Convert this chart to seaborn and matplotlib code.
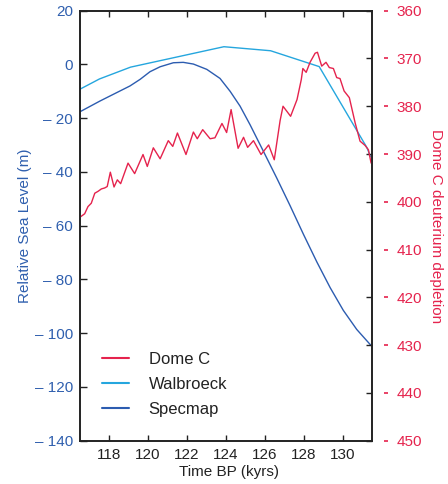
import matplotlib
matplotlib.use("Agg")
import matplotlib.pyplot as plt
import seaborn as sns
import pandas as pd
from matplotlib.ticker import FuncFormatter
from matplotlib.lines import Line2D

# ---------------- data ----------------
domec_age = [116.54, 116.74, 116.91, 117.08, 117.26, 117.43, 117.60, 117.77, 117.90, 118.06,
             118.25, 118.42, 118.59, 118.97, 119.31, 119.74, 119.96, 120.27, 120.62, 121.04,
             121.27, 121.51, 121.95, 122.33, 122.53, 122.81, 123.19, 123.44, 123.80, 124.04,
             124.27, 124.63, 124.91, 125.12, 125.42, 125.81, 126.20, 126.49, 126.79, 126.94,
             127.33, 127.66, 127.88, 127.96, 128.13, 128.33, 128.59, 128.71, 128.93, 129.15,
             129.32, 129.53, 129.70, 129.87, 130.08, 130.35, 130.65, 130.90, 131.16, 131.33,
             131.47]
domec_val = [403.1, 402.5, 401.0, 400.3, 398.2, 397.8, 397.3, 397.1, 396.8, 393.8,
             396.9, 395.4, 396.2, 391.9, 394.1, 390.1, 392.6, 388.7, 391.0, 387.2,
             388.4, 385.6, 390.1, 385.4, 386.8, 384.9, 386.8, 386.6, 383.6, 385.5,
             380.7, 388.8, 386.5, 388.6, 387.2, 390.1, 388.1, 391.2, 383.0, 380.0,
             382.1, 378.6, 374.4, 372.1, 372.9, 370.8, 368.9, 368.7, 371.6, 370.8,
             371.9, 372.1, 374.0, 374.2, 376.8, 378.2, 383.5, 387.3, 388.2, 389.1,
             391.9]

walb_age = [116.5, 117.5, 119.1, 123.9, 126.3, 128.8, 131.25, 131.45]
walb_val = [-9.2, -5.4, -1.0, 6.6, 5.1, -0.8, -30.9, -34.4]

spec_age = [116.5, 117.53, 119.07, 119.59, 120.10, 120.62, 121.30, 121.81, 122.33, 123.02,
            123.70, 124.22, 124.73, 125.25, 125.93, 126.62, 127.30, 127.99, 128.68, 129.36,
            130.04, 130.73, 131.47]
spec_val = [-17.6, -13.6, -8.0, -5.55, -2.7, -0.86, 0.63, 0.78, 0.15, -1.83,
            -5.2, -10.0, -15.5, -22.5, -32.3, -42.3, -52.5, -63.2, -73.5, -83.0,
            -91.5, -98.6, -104.6]

x_ticks = [118, 120, 122, 124, 126, 128, 130]
left_ticks = [20, 0, -20, -40, -60, -80, -100, -120, -140]
right_ticks = [360, 370, 380, 390, 400, 410, 420, 430, 440, 450]

# ---------------- style ----------------
sns.set_style("ticks")
plt.rcParams['font.family'] = ['Liberation Sans', 'DejaVu Sans']

RED = "#e5234d"
LBLUE = "#25a6de"
DBLUE = "#2c5cb0"
TBLUE = "#2f5fae"
SPINE = "#222222"

fig = plt.figure(figsize=(4.48, 4.84), dpi=100)
L, R, T, B = 80, 371.7, 10.7, 440.7
ax = fig.add_axes([L / 448, 1 - B / 484, (R - L) / 448, (B - T) / 484])

df_w = pd.DataFrame({"age": walb_age, "val": walb_val})
df_s = pd.DataFrame({"age": spec_age, "val": spec_val})
df_d = pd.DataFrame({"age": domec_age, "val": domec_val})

sns.lineplot(data=df_w, x="age", y="val", ax=ax, color=LBLUE, lw=1.0, legend=False,
             estimator=None, sort=False)
sns.lineplot(data=df_s, x="age", y="val", ax=ax, color=DBLUE, lw=1.0, legend=False,
             estimator=None, sort=False)

ax.set_xlim(116.5, 131.5)
ax.set_ylim(-140, 20)
ax.set_xticks(x_ticks)
ax.set_yticks(left_ticks)
ax.yaxis.set_major_formatter(FuncFormatter(
    lambda v, p: f"\u2013 {abs(v):g}" if v < 0 else f"{v:g}"))

for s in ax.spines.values():
    s.set_color(SPINE)
    s.set_linewidth(1.2)

ax.tick_params(axis='x', direction='in', length=4.5, width=1.0, color=SPINE,
               top=True, labelsize=11, labelcolor="#222222", pad=5)
ax.tick_params(axis='y', direction='in', length=5, width=1.0, color=SPINE,
               right=False, labelsize=11, labelcolor=TBLUE, pad=5)

ax.set_xlabel("Time BP (kyrs)", fontsize=11, color="#222222")
ax.set_ylabel("Relative Sea Level (m)", fontsize=11, color=TBLUE)
ax.xaxis.set_label_coords(0.512, -0.056)
ax.yaxis.set_label_coords(-0.165, 0.5)

# Dome C axis (inverted)
ax2 = ax.twinx()
sns.lineplot(data=df_d, x="age", y="val", ax=ax2, color=RED, lw=1.0, legend=False,
             estimator=None, sort=False)
ax2.set_ylim(450, 360)
ax2.set_yticks(right_ticks)
ax2.set_ylabel("")
ax2.tick_params(axis='y', direction='in', length=4.5, width=1.0, color=SPINE,
                labelright=False)
for s in ax2.spines.values():
    s.set_color(SPINE)
    s.set_linewidth(1.2)

# red labels with detached ticks
ax3 = ax.twinx()
ax3.set_ylim(450, 360)
ax3.set_yticks(right_ticks)
for k, s in ax3.spines.items():
    s.set_visible(False)
ax3.spines['right'].set_position(('outward', 9))
ax3.tick_params(axis='y', direction='out', length=3, width=1.2, color=RED,
                labelcolor=RED, labelsize=11, pad=6)
ax3.set_ylabel("Dome C deuterium depletion", fontsize=11, color=RED, rotation=270)
ax3.yaxis.set_label_coords(1.246, 0.5)
ax3.set_xlim(ax.get_xlim())

h = [Line2D([], [], color=RED, lw=1.5),
     Line2D([], [], color=LBLUE, lw=1.5),
     Line2D([], [], color=DBLUE, lw=1.5)]
leg = ax3.legend(h, ["Dome C", "Walbroeck", "Specmap"], loc="upper left",
                 bbox_to_anchor=((102 - L) / (R - L), (B - 352) / (B - T)),
                 frameon=False, fontsize=12, handlelength=1.6, handletextpad=1.2,
                 labelspacing=0.6, borderpad=0, borderaxespad=0)
for t in leg.get_texts():
    t.set_color("#222222")

fig.savefig("out.png", dpi=100)
